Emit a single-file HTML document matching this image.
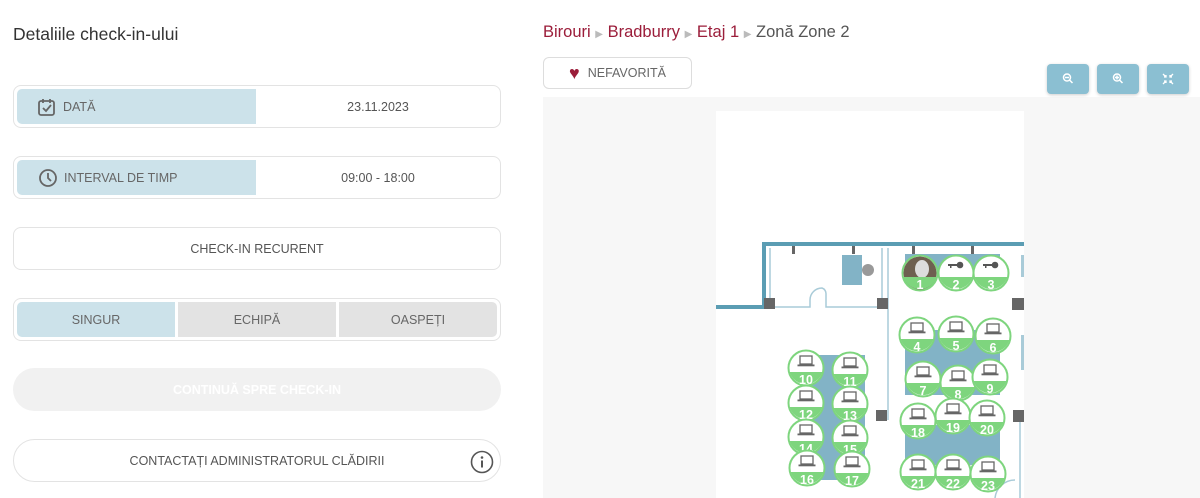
<!DOCTYPE html>
<html><head><meta charset="utf-8"><style>
*{box-sizing:border-box;margin:0;padding:0}
body{width:1200px;height:498px;overflow:hidden;background:#fff;font-family:"Liberation Sans",Arial,sans-serif;position:relative;color:#555}
.abs{position:absolute}
.box{position:absolute;left:13px;width:488px;border:1px solid #e3e3e3;border-radius:8px;background:#fff}
.lab{position:absolute;left:3px;top:3px;width:239px;height:35px;background:#cce2ea;border-radius:5px 0 0 5px;font-size:12.5px;color:#666;display:flex;align-items:center}
.val{position:absolute;left:242px;right:0;top:0;bottom:0;display:flex;align-items:center;justify-content:center;font-size:12.5px;color:#555}
.seg{position:absolute;top:3px;height:35px;display:flex;align-items:center;justify-content:center;font-size:12.5px;color:#666}
.btn{position:absolute;width:42px;height:30px;background:#8bbfd2;border-radius:4px;top:64px;box-shadow:0 1px 3px rgba(0,0,0,.2)}
</style></head><body>
<div class="abs" style="left:13px;top:24px;font-size:17.5px;color:#333">Detaliile check-in-ului</div>

<div class="box" style="top:85px;height:43px">
 <div class="lab"><svg width="20" height="20" style="margin-left:20px;margin-right:6px" viewBox="0 0 20 20"><rect x="2" y="4" width="15" height="14" rx="2" fill="none" stroke="#666" stroke-width="1.8"/><path d="M6 2v4M13 2v4" stroke="#666" stroke-width="1.8"/><path d="M6 11l3 3 5-6" fill="none" stroke="#666" stroke-width="1.8"/></svg>DATĂ</div>
 <div class="val">23.11.2023</div>
</div>
<div class="box" style="top:156px;height:43px">
 <div class="lab"><svg width="20" height="20" style="margin-left:21px;margin-right:6px" viewBox="0 0 20 20"><circle cx="10" cy="10" r="8" fill="none" stroke="#666" stroke-width="1.8"/><path d="M10 5v5l3 3" fill="none" stroke="#666" stroke-width="1.8"/></svg>INTERVAL DE TIMP</div>
 <div class="val">09:00 - 18:00</div>
</div>
<div class="box" style="top:227px;height:43px;display:flex;align-items:center;justify-content:center;font-size:12.5px;color:#555">CHECK-IN RECURENT</div>
<div class="box" style="top:298px;height:43px">
 <div class="seg" style="left:3px;width:158px;background:#cce2ea;border-radius:5px 0 0 5px">SINGUR</div>
 <div class="seg" style="left:164px;width:158px;background:#e3e3e3">ECHIPĂ</div>
 <div class="seg" style="left:325px;width:158px;background:#e3e3e3;border-radius:0 5px 5px 0">OASPEȚI</div>
</div>
<div class="abs" style="left:13px;top:368px;width:488px;height:43px;background:#f1f1f1;border-radius:22px;display:flex;align-items:center;justify-content:center;font-size:12.5px;font-weight:bold;color:#fff">CONTINUĂ SPRE CHECK-IN</div>
<div class="abs" style="left:13px;top:439px;width:488px;height:43px;border:1px solid #e3e3e3;border-radius:22px;display:flex;align-items:center;justify-content:center;font-size:12.5px;color:#555">CONTACTAȚI ADMINISTRATORUL CLĂDIRII
 <svg class="abs" style="right:6px;top:10px" width="24" height="24" viewBox="0 0 24 24"><circle cx="12" cy="12" r="10.5" fill="none" stroke="#555" stroke-width="1.6"/><circle cx="12" cy="7.5" r="1.3" fill="#555"/><path d="M12 10.5v7" stroke="#555" stroke-width="2"/></svg>
</div>

<div class="abs" style="left:543px;top:23px;font-size:16.5px;color:#555;white-space:nowrap"><span style="color:#9b1d3a">Birouri</span> <span style="color:#bbb;font-size:10px">▶</span> <span style="color:#9b1d3a">Bradburry</span> <span style="color:#bbb;font-size:10px">▶</span> <span style="color:#9b1d3a">Etaj 1</span> <span style="color:#bbb;font-size:10px">▶</span> Zonă Zone 2</div>
<div class="abs" style="left:543px;top:57px;width:149px;height:32px;border:1px solid #ddd;border-radius:6px;display:flex;align-items:center;justify-content:center;font-size:12.5px;color:#666"><span style="color:#9b1d3a;font-size:18px;margin-right:8px">♥</span>NEFAVORITĂ</div>

<div class="abs" style="left:543px;top:97px;width:657px;height:401px;background:#f7f7f7"></div>
<svg class="abs" style="left:0;top:0" width="1200" height="498" viewBox="0 0 1200 498">
 <rect x="716" y="111" width="308" height="387" fill="#fff"/>
 <path d="M716 307H764V244H1024" fill="none" stroke="#5b9db3" stroke-width="4"/>
 <path d="M770 248V307H810V300a12 12 0 0 1 12-12 6 6 0 0 1 4 6V307H882V248" fill="none" stroke="#a9cbd8" stroke-width="1.5"/>
 <path d="M888 248V420M1020 420V498" fill="none" stroke="#a9cbd8" stroke-width="1.5"/>
 <rect x="1021" y="255" width="3" height="22" fill="#a9cbd8"/><rect x="1021" y="335" width="3" height="35" fill="#a9cbd8"/>
 <path d="M995 498a20 20 0 0 1 20-18" fill="none" stroke="#a9cbd8" stroke-width="1.5"/>
 <g fill="#666"><rect x="764" y="298" width="11" height="11"/><rect x="877" y="298" width="11" height="11"/><rect x="1012" y="298" width="12" height="12"/><rect x="876" y="410" width="11" height="11"/><rect x="1013" y="410" width="11" height="12"/>
 <rect x="792" y="246" width="3" height="8"/><rect x="852" y="246" width="3" height="8"/><rect x="912" y="246" width="3" height="8"/><rect x="971" y="246" width="3" height="8"/></g>
 <rect x="842" y="255" width="20" height="30" fill="#82b3c6"/><circle cx="868" cy="270" r="6" fill="#999"/>
 <g fill="#82b3c6">
  <rect x="905" y="254" width="95" height="20"/>
  <rect x="905" y="330" width="95" height="65"/>
  <rect x="810" y="355" width="55" height="125"/>
  <rect x="905" y="425" width="95" height="40"/>
 </g>
 <defs>
  <g id="s">
   <circle r="17.5" fill="#fff" stroke="#7ed57e" stroke-width="2"/>
   <path d="M-16.3 4A17 17 0 0 0 16.3 4Z" fill="#7ed57e"/>
  </g>
  <g id="lap"><rect x="-6" y="-12" width="12" height="8" fill="none" stroke="#666" stroke-width="1.3"/><rect x="-8.5" y="-3.5" width="17" height="1.8" fill="#666"/></g>
  <g id="key"><circle cx="4" cy="-8" r="3.3" fill="#555"/><rect x="-8" y="-9" width="11" height="2" fill="#555"/><rect x="-6" y="-8" width="1.5" height="3" fill="#555"/></g>
 </defs>
 <g font-family="Liberation Sans,Arial,sans-serif" font-size="12.5" font-weight="bold" fill="#fff" text-anchor="middle">
  <g transform="translate(920,273)"><use href="#s"/><circle r="16.5" fill="#6e6050"/><path d="M-16.3 4A17 17 0 0 0 16.3 4Z" fill="#7ed57e"/><ellipse cx="2" cy="-4" rx="7" ry="9" fill="#ddd"/><path d="M-16.3 4A17 17 0 0 0 16.3 4Z" fill="#7ed57e"/><text y="16">1</text></g>
  <g transform="translate(956,273)"><use href="#s"/><use href="#key"/><text y="16">2</text></g>
  <g transform="translate(991,273)"><use href="#s"/><use href="#key"/><text y="16">3</text></g>
  <g transform="translate(917,335)"><use href="#s"/><use href="#lap"/><text y="16">4</text></g>
  <g transform="translate(956,334)"><use href="#s"/><use href="#lap"/><text y="16">5</text></g>
  <g transform="translate(993,336)"><use href="#s"/><use href="#lap"/><text y="16">6</text></g>
  <g transform="translate(923,379)"><use href="#s"/><use href="#lap"/><text y="16">7</text></g>
  <g transform="translate(958,383)"><use href="#s"/><use href="#lap"/><text y="16">8</text></g>
  <g transform="translate(990,377)"><use href="#s"/><use href="#lap"/><text y="16">9</text></g>
  <g transform="translate(806,368)"><use href="#s"/><use href="#lap"/><text y="16">10</text></g>
  <g transform="translate(850,370)"><use href="#s"/><use href="#lap"/><text y="16">11</text></g>
  <g transform="translate(806,403)"><use href="#s"/><use href="#lap"/><text y="16">12</text></g>
  <g transform="translate(850,404)"><use href="#s"/><use href="#lap"/><text y="16">13</text></g>
  <g transform="translate(806,437)"><use href="#s"/><use href="#lap"/><text y="16">14</text></g>
  <g transform="translate(850,438)"><use href="#s"/><use href="#lap"/><text y="16">15</text></g>
  <g transform="translate(807,468)"><use href="#s"/><use href="#lap"/><text y="16">16</text></g>
  <g transform="translate(852,469)"><use href="#s"/><use href="#lap"/><text y="16">17</text></g>
  <g transform="translate(918,421)"><use href="#s"/><use href="#lap"/><text y="16">18</text></g>
  <g transform="translate(953,416)"><use href="#s"/><use href="#lap"/><text y="16">19</text></g>
  <g transform="translate(987,418)"><use href="#s"/><use href="#lap"/><text y="16">20</text></g>
  <g transform="translate(918,472)"><use href="#s"/><use href="#lap"/><text y="16">21</text></g>
  <g transform="translate(953,472)"><use href="#s"/><use href="#lap"/><text y="16">22</text></g>
  <g transform="translate(988,474)"><use href="#s"/><use href="#lap"/><text y="16">23</text></g>
 </g>
</svg>

<div class="btn" style="left:1047px"><svg width="42" height="30" viewBox="0 0 42 30"><circle cx="20" cy="13.5" r="3.5" fill="none" stroke="#fff" stroke-width="1.5"/><path d="M22.5 16l3 3M18 13.5h4" stroke="#fff" stroke-width="1.5"/></svg></div>
<div class="btn" style="left:1097px"><svg width="42" height="30" viewBox="0 0 42 30"><circle cx="20" cy="13.5" r="3.5" fill="none" stroke="#fff" stroke-width="1.5"/><path d="M22.5 16l3 3M18 13.5h4M20 11.5v4" stroke="#fff" stroke-width="1.5"/></svg></div>
<div class="btn" style="left:1147px"><svg width="42" height="30" viewBox="0 0 42 30"><path d="M16 10l3 3M26 10l-3 3M16 20l3-3M26 20l-3-3M19 11v2h-2M23 11v2h2M19 19v-2h-2M23 19v-2h2" stroke="#fff" stroke-width="1.3" fill="none"/></svg></div>
</body></html>
